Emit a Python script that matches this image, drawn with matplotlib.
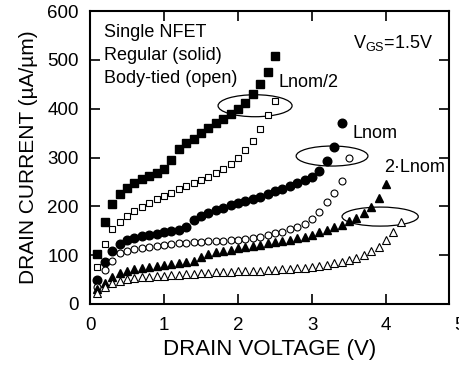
import matplotlib
matplotlib.use("Agg")
import matplotlib.pyplot as plt
from matplotlib.patches import Ellipse

plt.rcParams['font.family'] = ['Liberation Sans', 'DejaVu Sans']

# Drain voltage (V)
vd_half = [0.1, 0.2, 0.3, 0.4, 0.5, 0.6, 0.7, 0.8, 0.9, 1.0, 1.1, 1.2, 1.3, 1.4, 1.5,
           1.6, 1.7, 1.8, 1.9, 2.0, 2.1, 2.2, 2.3, 2.4, 2.5]
vd_nom = [0.1, 0.2, 0.3, 0.4, 0.5, 0.6, 0.7, 0.8, 0.9, 1.0, 1.1, 1.2, 1.3, 1.4, 1.5,
          1.6, 1.7, 1.8, 1.9, 2.0, 2.1, 2.2, 2.3, 2.4, 2.5, 2.6, 2.7, 2.8, 2.9, 3.0,
          3.1, 3.2, 3.3, 3.4]
vd_nom_bt = vd_nom + [3.5]
vd_2nom = [0.1, 0.2, 0.3, 0.4, 0.5, 0.6, 0.7, 0.8, 0.9, 1.0, 1.1, 1.2, 1.3, 1.4, 1.5,
           1.6, 1.7, 1.8, 1.9, 2.0, 2.1, 2.2, 2.3, 2.4, 2.5, 2.6, 2.7, 2.8, 2.9, 3.0,
           3.1, 3.2, 3.3, 3.4, 3.5, 3.6, 3.7, 3.8, 3.9, 4.0]
vd_2nom_bt = vd_2nom + [4.1, 4.2]

# Drain current (uA/um)
id_half_reg = [102, 168, 205, 225, 238, 248, 256, 262, 268, 276, 295, 318, 329, 338, 350,
               360, 370, 379, 389, 400, 412, 430, 450, 475, 508]
id_half_bt = [76, 123, 153, 168, 180, 190, 199, 207, 215, 221, 228, 235, 242, 248, 253,
              261, 268, 277, 287, 299, 315, 334, 358, 387, 416]
id_nom_reg = [49, 86, 109, 123, 131, 135, 139, 141, 144, 147, 149, 152, 157, 171, 181,
              187, 192, 197, 202, 207, 211, 215, 220, 226, 231, 236, 241, 247, 253, 260,
              273, 293, 322, 371]
id_nom_bt = [35, 70, 88, 104, 108, 112, 115, 117, 119, 121, 122, 124, 125, 126, 127,
             128, 129, 130, 131, 132, 134, 135, 138, 141, 145, 148, 153, 158, 164, 174,
             189, 208, 227, 252, 300]
id_2nom_reg = [30, 43, 55, 63, 68, 71, 74, 76, 78, 80, 82, 84, 86, 88, 97,
               103, 106, 109, 111, 114, 116, 119, 121, 124, 126, 129, 132, 135, 138, 141,
               148, 152, 158, 162, 170, 177, 186, 199, 217, 246]
id_2nom_bt = [22, 35, 43, 48, 51, 53, 55, 56, 57, 58, 59, 60, 61, 62, 63,
              64, 65, 65, 66, 67, 67, 68, 68, 69, 70, 71, 72, 73, 74, 75,
              77, 80, 83, 86, 90, 95, 100, 108, 117, 131, 148, 168]

xticks = [0, 1, 2, 3, 4]
yticks = [0, 100, 200, 300, 400, 500, 600]

fig = plt.figure(figsize=(4.59, 3.69), dpi=100)
ax = fig.add_axes([90/459, 1-304/369, (449-90)/459, (304-11)/369])

ax.plot(vd_half, id_half_reg, 's', color='black', ms=5.5, mec='black')
ax.plot(vd_half, id_half_bt, 's', mfc='white', mec='black', ms=4.2, mew=0.8)
ax.plot(vd_nom, id_nom_reg, 'o', color='black', ms=6.2)
ax.plot(vd_nom_bt, id_nom_bt, 'o', mfc='white', mec='black', ms=5.0, mew=0.8)
ax.plot(vd_2nom, id_2nom_reg, '^', color='black', ms=6.2)
ax.plot(vd_2nom_bt, id_2nom_bt, '^', mfc='white', mec='black', ms=5.2, mew=0.8)

for cx, cy, w, h in [(2.23, 406, 1.0, 45), (3.27, 303, 0.97, 41), (3.92, 179, 1.03, 39)]:
    ax.add_patch(Ellipse((cx, cy), w, h, fill=False, ec='black', lw=0.9))

ax.set_xlim(0, 4.85)
ax.set_ylim(0, 600)
ax.set_xticks(xticks)
ax.set_yticks(yticks)
ax.tick_params(direction='in', length=7, width=1.2, top=True, right=True,
               labelsize=13.5)
ax.tick_params(axis='x', pad=9)
ax.tick_params(axis='y', pad=8)
for s in ax.spines.values():
    s.set_linewidth(1.5)
# the "5" tick label sits beyond the right spine and is cut by the figure edge
fig.text(459/459, 1-325/369, '5', ha='center', va='center', fontsize=13.5)

ax.set_xlabel('DRAIN VOLTAGE (V)', fontsize=16, labelpad=4)
ax.set_ylabel('DRAIN CURRENT (\u00b5A/\u00b5m)', fontsize=15, labelpad=7)

fs = 13
ax.text(0.04, 0.925, 'Single NFET', transform=ax.transAxes, fontsize=fs, va='center')
ax.text(0.04, 0.847, 'Regular (solid)', transform=ax.transAxes, fontsize=fs, va='center')
ax.text(0.04, 0.769, 'Body-tied (open)', transform=ax.transAxes, fontsize=fs, va='center')
ax.text(3.55, 535, 'V$_{\\mathregular{GS}}$=1.5V', fontsize=fs, va='center')
ax.text(2.55, 453, 'Lnom/2', fontsize=fs, va='center')
ax.text(3.55, 350, 'Lnom', fontsize=fs, va='center')
ax.text(3.98, 279, '2\u00b7Lnom', fontsize=fs, va='center')

fig.savefig('out.png', dpi=100)
